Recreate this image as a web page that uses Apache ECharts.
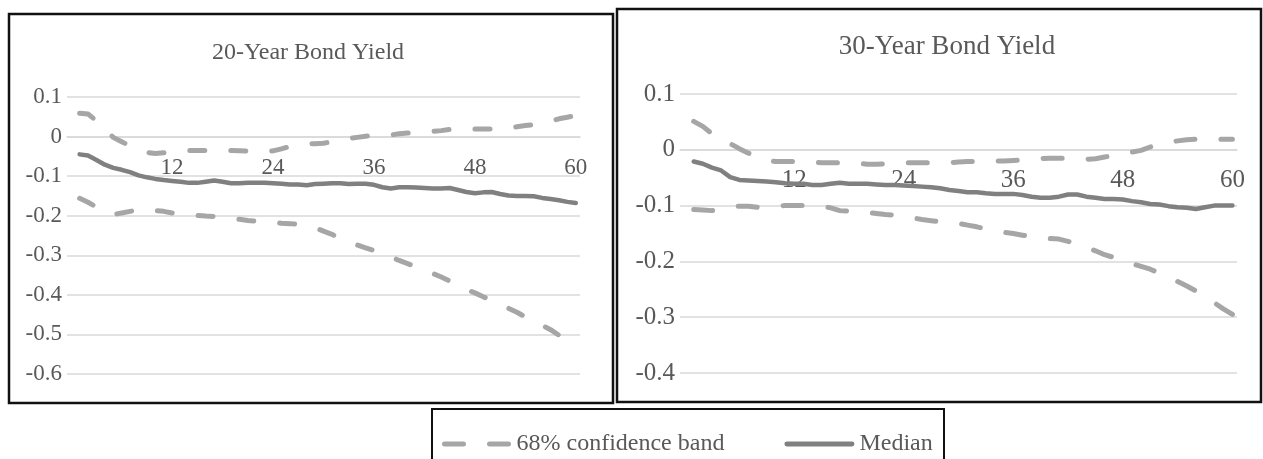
<!DOCTYPE html>
<html>
<head>
<meta charset="utf-8">
<script src="https://cdn.jsdelivr.net/npm/echarts@6/dist/echarts.min.js"></script>
<style>
  html, body { margin: 0; padding: 0; background: #fff; }
  #c { width: 1263px; height: 459px; }
</style>
</head>
<body>
<div id="c"></div>
<script>
// Forecast horizon in months (0..60); month 0 is an empty slot at the start of the axis.
const months = Array.from({ length: 61 }, (_, i) => String(i));
const labelEvery = 12;

// 20-year bond yield response, months 1..60
const y20Median = [
  -0.045, -0.048, -0.059, -0.071, -0.079, -0.084, -0.090, -0.098, -0.103, -0.107,
  -0.110, -0.112, -0.114, -0.117, -0.117, -0.114, -0.111, -0.114, -0.118, -0.118,
  -0.117, -0.117, -0.117, -0.118, -0.119, -0.121, -0.121, -0.123, -0.120, -0.119,
  -0.118, -0.118, -0.120, -0.119, -0.119, -0.122, -0.128, -0.131, -0.128, -0.128,
  -0.129, -0.130, -0.131, -0.131, -0.130, -0.135, -0.140, -0.143, -0.141, -0.140,
  -0.145, -0.149, -0.150, -0.150, -0.151, -0.155, -0.158, -0.161, -0.165, -0.168
];
const y20Upper = [
   0.059,  0.057,  0.040,  0.019, -0.002, -0.013, -0.024, -0.034, -0.040, -0.043,
  -0.041, -0.039, -0.036, -0.035, -0.035, -0.035, -0.035, -0.035, -0.035, -0.036,
  -0.037, -0.037, -0.038, -0.036, -0.031, -0.025, -0.021, -0.019, -0.018, -0.017,
  -0.013, -0.008, -0.005, -0.002,  0.001,  0.003,  0.003,  0.004,  0.007,  0.009,
   0.011,  0.013,  0.013,  0.015,  0.018,  0.019,  0.019,  0.019,  0.019,  0.019,
   0.019,  0.020,  0.025,  0.028,  0.030,  0.034,  0.038,  0.045,  0.049,  0.053
];
const y20Lower = [
  -0.156, -0.166, -0.178, -0.188, -0.197, -0.193, -0.189, -0.185, -0.185, -0.187,
  -0.189, -0.193, -0.196, -0.198, -0.199, -0.201, -0.202, -0.204, -0.207, -0.209,
  -0.212, -0.214, -0.214, -0.216, -0.219, -0.220, -0.222, -0.225, -0.230, -0.239,
  -0.247, -0.258, -0.267, -0.274, -0.281, -0.288, -0.296, -0.304, -0.313, -0.321,
  -0.329, -0.337, -0.346, -0.355, -0.365, -0.376, -0.386, -0.395, -0.405, -0.414,
  -0.424, -0.434, -0.444, -0.456, -0.466, -0.477, -0.488, -0.502, -0.518, -0.535
];

// 30-year bond yield response, months 1..60
const y30Median = [
  -0.021, -0.025, -0.032, -0.037, -0.049, -0.054, -0.055, -0.056, -0.057, -0.058,
  -0.060, -0.061, -0.061, -0.063, -0.063, -0.061, -0.059, -0.061, -0.061, -0.061,
  -0.062, -0.063, -0.063, -0.064, -0.065, -0.066, -0.067, -0.069, -0.072, -0.074,
  -0.076, -0.076, -0.078, -0.079, -0.079, -0.079, -0.081, -0.084, -0.086, -0.086,
  -0.084, -0.080, -0.080, -0.084, -0.086, -0.088, -0.088, -0.089, -0.092, -0.094,
  -0.097, -0.098, -0.101, -0.103, -0.104, -0.106, -0.103, -0.100, -0.100, -0.100
];
const y30Upper = [
   0.051,  0.042,  0.029,  0.020,  0.011,  0.002, -0.006, -0.014, -0.019, -0.021,
  -0.021, -0.021, -0.021, -0.022, -0.023, -0.023, -0.023, -0.023, -0.024, -0.026,
  -0.026, -0.025, -0.024, -0.023, -0.023, -0.023, -0.023, -0.023, -0.023, -0.022,
  -0.021, -0.021, -0.020, -0.020, -0.020, -0.019, -0.018, -0.017, -0.016, -0.015,
  -0.015, -0.015, -0.016, -0.017, -0.016, -0.013, -0.010, -0.006, -0.004, -0.001,
   0.005,  0.009,  0.013,  0.016,  0.018,  0.019,  0.019,  0.019,  0.019,  0.019
];
const y30Lower = [
  -0.107, -0.108, -0.109, -0.106, -0.102, -0.101, -0.101, -0.103, -0.102, -0.101,
  -0.100, -0.100, -0.100, -0.100, -0.101, -0.104, -0.109, -0.110, -0.110, -0.112,
  -0.114, -0.116, -0.117, -0.119, -0.122, -0.125, -0.127, -0.129, -0.131, -0.132,
  -0.135, -0.138, -0.142, -0.146, -0.148, -0.150, -0.153, -0.156, -0.158, -0.159,
  -0.160, -0.164, -0.169, -0.175, -0.181, -0.188, -0.193, -0.198, -0.204, -0.209,
  -0.214, -0.221, -0.228, -0.236, -0.244, -0.253, -0.264, -0.274, -0.285, -0.295
];

const titles = ['20-Year Bond Yield', '30-Year Bond Yield'];
const bandName = '68% confidence band';
const medianName = 'Median';

const FONT = '"Liberation Serif", "Times New Roman", serif';
const TEXT = '#595959';
const GRIDLINE = '#d9d9d9';
const BAND = '#a6a6a6';
const MEDIAN = '#808080';

// one panel per bond maturity
const panels = [
  { grid: { left: 67, top: 97, width: 513, height: 277 }, min: -0.6, max: 0.1,
    tick: 23, labelMargin: 20, title: 24, titleX: 308, titleY: 53, dash: [15, 26],
    median: y20Median, upper: y20Upper, lower: y20Lower },
  { grid: { left: 680, top: 94, width: 557, height: 279 }, min: -0.4, max: 0.1,
    tick: 25, labelMargin: 18, title: 27, titleX: 947, titleY: 47, dash: [19, 26],
    median: y30Median, upper: y30Upper, lower: y30Lower }
];

const withGap = arr => [null].concat(arr);

const grid = [], xAxis = [], yAxis = [], series = [], graphic = [];
panels.forEach((p, i) => {
  grid.push(Object.assign({ containLabel: false }, p.grid));
  // the month axis crosses the value axis at zero
  const zeroShift = -p.grid.height * (0 - p.min) / (p.max - p.min);
  xAxis.push({
    gridIndex: i, type: 'category', data: months, boundaryGap: true,
    position: 'bottom', offset: zeroShift,
    axisLine: { show: true, onZero: false, lineStyle: { color: GRIDLINE, width: 1.5 } },
    axisTick: { show: false },
    splitLine: { show: false },
    axisLabel: {
      interval: idx => idx > 0 && idx % labelEvery === 0,
      margin: p.labelMargin, fontFamily: FONT, fontSize: p.tick, color: TEXT
    }
  });
  yAxis.push({
    gridIndex: i, type: 'value', min: p.min, max: p.max, interval: 0.1,
    axisLine: { show: false }, axisTick: { show: false },
    splitLine: { lineStyle: { color: GRIDLINE, width: 1.5 } },
    axisLabel: { margin: 5, fontFamily: FONT, fontSize: p.tick, color: TEXT }
  });
  const bandStyle = { color: BAND, width: 5, type: p.dash, cap: 'round', join: 'round' };
  [p.upper, p.lower].forEach(arr => series.push({
    name: bandName, type: 'line', xAxisIndex: i, yAxisIndex: i,
    data: withGap(arr), symbol: 'none', silent: true,
    itemStyle: { color: BAND }, lineStyle: bandStyle, z: 2
  }));
  series.push({
    name: medianName, type: 'line', xAxisIndex: i, yAxisIndex: i,
    data: withGap(p.median), symbol: 'none', silent: true,
    itemStyle: { color: MEDIAN },
    lineStyle: { color: MEDIAN, width: 4.5, cap: 'round', join: 'round' }, z: 3
  });
  graphic.push({
    type: 'text', x: p.titleX, y: p.titleY, silent: true,
    style: { text: titles[i], font: p.title + 'px ' + FONT, fill: TEXT,
             align: 'center', verticalAlign: 'middle' }
  });
});

// panel frames and legend frame
graphic.push(
  { type: 'rect', silent: true, shape: { x: 9, y: 14, width: 604, height: 389 },
    style: { fill: 'none', stroke: '#111', lineWidth: 2.5 } },
  { type: 'rect', silent: true, shape: { x: 617, y: 9, width: 644, height: 393 },
    style: { fill: 'none', stroke: '#111', lineWidth: 2.5 } },
  { type: 'rect', silent: true, shape: { x: 432, y: 409, width: 512, height: 70 },
    style: { fill: 'none', stroke: '#111', lineWidth: 2 } }
);

// legend keys: two rounded dashes for the band, one rounded bar for the median
const dashKey = 'path://M2.5,0h19a2.5,2.5 0 0 1 0,5h-19a2.5,2.5 0 0 1 0,-5z' +
                'M47.5,0h19a2.5,2.5 0 0 1 0,5h-19a2.5,2.5 0 0 1 0,-5z';
const barKey = 'path://M2.5,0h68a2.5,2.5 0 0 1 0,5h-68a2.5,2.5 0 0 1 0,-5z';

const chart = echarts.init(document.getElementById('c'));
chart.setOption({
  animation: false,
  backgroundColor: '#fff',
  grid, xAxis, yAxis, series, graphic,
  legend: {
    left: 437, top: 427, itemWidth: 70, itemHeight: 5, itemGap: 60,
    selectedMode: false,
    textStyle: { fontFamily: FONT, fontSize: 24, color: TEXT },
    data: [
      { name: bandName, icon: dashKey, itemStyle: { color: BAND } },
      { name: medianName, icon: barKey, itemStyle: { color: MEDIAN } }
    ]
  }
});
</script>
</body>
</html>
